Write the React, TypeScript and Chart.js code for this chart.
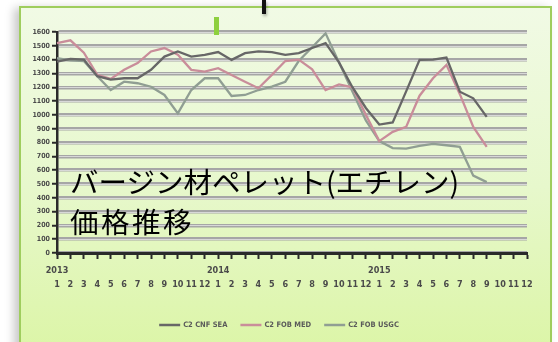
import React, { useEffect, useRef } from "react";
import { Chart, registerables } from "chart.js";

Chart.register(...registerables);

// ---- data ----
const years = ["2013", "2014", "2015"];
const monthLabels = ["1", "2", "3", "4", "5", "6", "7", "8", "9", "10", "11", "12"];
const seriesNames = ["C2 CNF SEA", "C2 FOB MED", "C2 FOB USGC"];
const cnfValues = [1386, 1405, 1400, 1280, 1255, 1265, 1265, 1326, 1422, 1459, 1422, 1435, 1455, 1398, 1447, 1459, 1455, 1435, 1447, 1484, 1520, 1380, 1200, 1050, 930, 945, 1170, 1398, 1400, 1415, 1168, 1120, 986];
const medValues = [1520, 1540, 1450, 1290, 1260, 1326, 1375, 1459, 1484, 1435, 1326, 1313, 1338, 1289, 1240, 1193, 1290, 1390, 1400, 1330, 1180, 1220, 1200, 1000, 810, 877, 913, 1139, 1265, 1362, 1150, 913, 768];
const usgcValues = [1410, 1395, 1390, 1280, 1180, 1240, 1229, 1204, 1144, 1011, 1180, 1265, 1265, 1137, 1144, 1180, 1204, 1240, 1390, 1490, 1590, 1380, 1170, 960, 810, 760, 756, 775, 790, 780, 768, 560, 513];
const yMin = 0;
const yMax = 1600;
const yStep = 100;
const titleLines = ["バージン材ペレット(エチレン)", "価格推移"];

const seriesColors = ["#676767", "#c98d9a", "#909e93"];
const NARROW = '"DejaVu Sans Condensed", "Liberation Sans Narrow", "Liberation Sans", sans-serif';

const gridHighlight = {
  id: "gridHighlight",
  beforeDatasetsDraw(chart: any) {
    const { ctx, chartArea, scales } = chart;
    const y = scales.y;
    ctx.save();
    ctx.strokeStyle = "#d8d8d8";
    ctx.lineWidth = 1;
    y.ticks.forEach((t: any) => {
      if (t.value === yMin) return;
      const py = Math.round(y.getPixelForValue(t.value)) + 0.5;
      ctx.beginPath();
      ctx.moveTo(chartArea.left + 2, py);
      ctx.lineTo(chartArea.right, py);
      ctx.stroke();
    });
    ctx.restore();
  },
};

const customLegend = {
  id: "customLegend",
  afterDraw(chart: any) {
    const { ctx } = chart;
    const ds = chart.data.datasets;
    ctx.save();
    ctx.font = `bold 7.5px ${NARROW}`;
    ctx.textBaseline = "middle";
    const lineLen = 21;
    const gap = 3;
    const itemGap = 13;
    const widths = ds.map((d: any) => lineLen + gap + ctx.measureText(d.label).width);
    const total = widths.reduce((a: number, b: number) => a + b, 0) + itemGap * (ds.length - 1);
    let x = chart.width / 2 - total / 2;
    const cy = 325;
    ds.forEach((d: any, i: number) => {
      ctx.strokeStyle = d.borderColor;
      ctx.lineWidth = 2.5;
      ctx.beginPath();
      ctx.moveTo(x, cy);
      ctx.lineTo(x + lineLen, cy);
      ctx.stroke();
      ctx.fillStyle = "#5a5a5a";
      ctx.fillText(d.label, x + lineLen + gap, cy);
      x += widths[i] + itemGap;
    });
    ctx.restore();
  },
};

export default function App() {
  const canvasRef = useRef<HTMLCanvasElement>(null);

  useEffect(() => {
    const labels: (string | string[])[] = [];
    years.forEach((yr) => {
      monthLabels.forEach((m, i) => {
        labels.push(i === 0 ? [yr, m] : ["", m]);
      });
    });
    const values = [cnfValues, medValues, usgcValues];
    const chart = new Chart(canvasRef.current!, {
      type: "line",
      data: {
        labels,
        datasets: values.map((v, i) => ({
          label: seriesNames[i],
          data: v,
          borderColor: seriesColors[i],
          backgroundColor: seriesColors[i],
          borderWidth: 2.3,
          pointRadius: 0,
          tension: 0,
          fill: false,
        })),
      },
      options: {
        responsive: false,
        animation: false,
        devicePixelRatio: 1,
        layout: { padding: { left: 0, right: 31, top: 32, bottom: 0 } },
        plugins: { legend: { display: false }, tooltip: { enabled: false } },
        scales: {
          x: {
            offset: false,
            afterFit: (s: any) => {
              s.height = 89;
            },
            grid: {
              drawOnChartArea: false,
              drawTicks: true,
              tickLength: 6,
              tickColor: "#2a2a2a",
              tickWidth: 2,
            },
            border: { color: "#2a2a2a", width: 3 },
            ticks: {
              autoSkip: false,
              maxRotation: 0,
              padding: 5,
              color: "#4a4a4a",
              font: { family: NARROW, size: 9, weight: "bold", lineHeight: 1.55 },
            },
          },
          y: {
            min: yMin,
            max: yMax,
            afterFit: (s: any) => {
              s.width = 57;
            },
            grid: {
              color: "#a6a6a6",
              lineWidth: 3.5,
              tickLength: 5,
              tickColor: "#2a2a2a",
              tickWidth: 2,
            },
            border: { color: "#2a2a2a", width: 2.5 },
            ticks: {
              stepSize: yStep,
              padding: 2,
              color: "#4a4a4a",
              font: { family: NARROW, size: 7, weight: "bold" },
              callback: (v: any) => String(v),
            },
          },
        },
      },
      plugins: [gridHighlight, customLegend],
    });
    return () => chart.destroy();
  }, []);

  return (
    <div style={{ position: "fixed", left: 0, top: 0, width: 558, height: 342, overflow: "hidden", background: "#fff" }}>
      <div
        style={{
          position: "absolute",
          left: 19,
          top: 6,
          width: 533,
          height: 360,
          boxSizing: "border-box",
          border: "2px solid #9fcd5e",
          background: "linear-gradient(to bottom, #f1fae5 0%, #e7f8cc 50%, #dbf5a4 100%)",
          boxShadow: "-5px 2px 9px rgba(0,0,0,0.22)",
        }}
      />
      <canvas
        ref={canvasRef}
        width={558}
        height={342}
        style={{ position: "absolute", left: 0, top: 0, width: 558, height: 342 }}
      />
      <div
        style={{
          position: "absolute",
          left: 70,
          top: 161,
          fontFamily: '"Noto Sans CJK JP", sans-serif',
          fontSize: 28.5,
          lineHeight: "40px",
          color: "#000",
          whiteSpace: "nowrap",
        }}
      >
        <div>{titleLines[0]}</div>
        <div style={{ letterSpacing: 2.5 }}>{titleLines[1]}</div>
      </div>
      <div style={{ position: "absolute", left: 214, top: 17, width: 5, height: 18, background: "#8ed03e" }} />
      <div
        style={{
          position: "absolute",
          left: 262,
          top: 0,
          width: 4,
          height: 14,
          background: "#111",
          boxShadow: "1px 2px 3px rgba(0,0,0,0.3)",
        }}
      />
    </div>
  );
}
